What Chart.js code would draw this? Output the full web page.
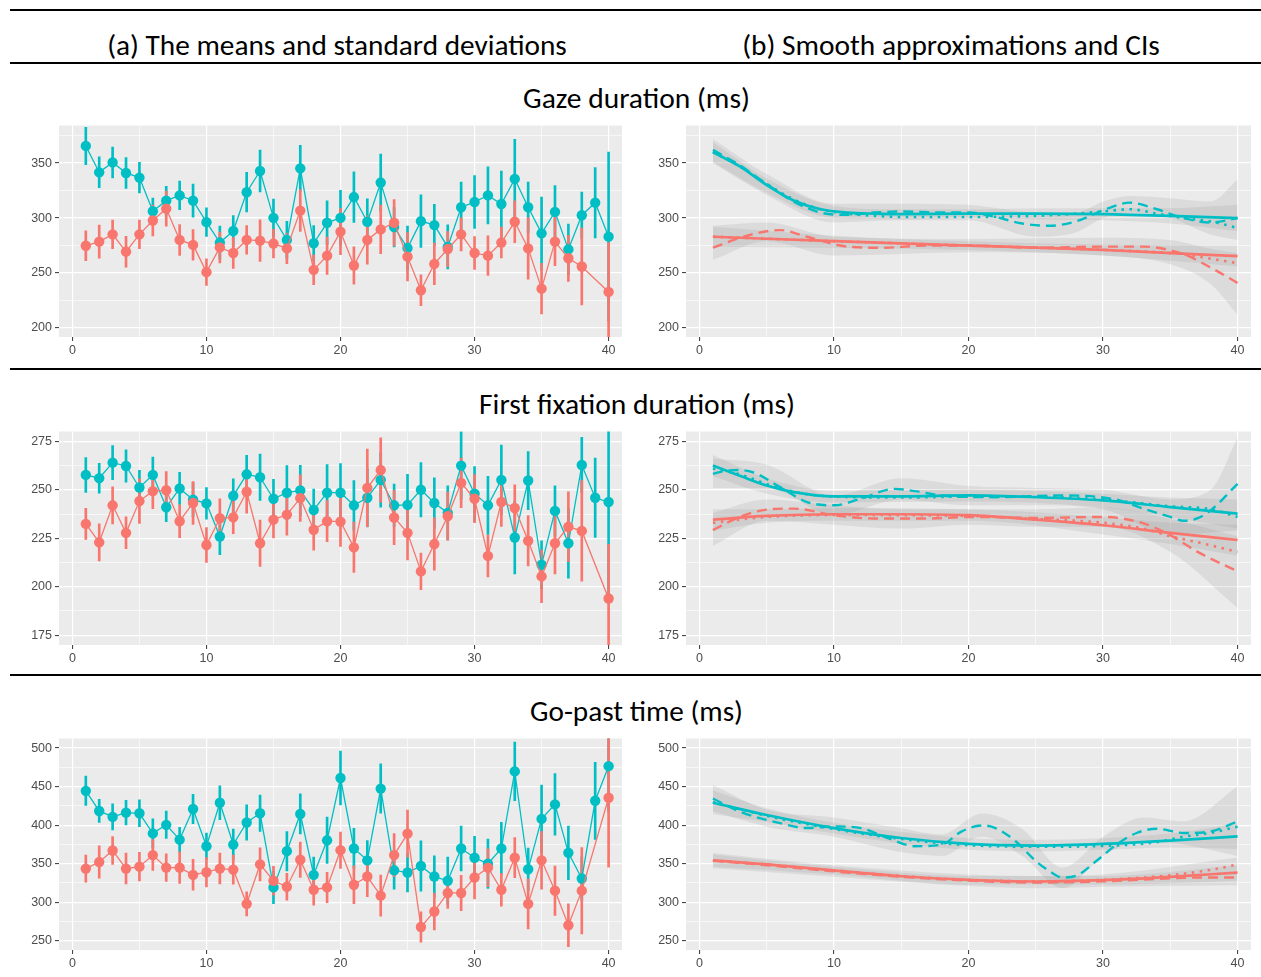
<!DOCTYPE html>
<html><head><meta charset="utf-8">
<script src="https://cdn.jsdelivr.net/npm/chart.js@4/dist/chart.umd.min.js"></script>
<style>
body{margin:0;background:#fff;width:1261px;height:977px;position:relative;overflow:hidden;}
.hr{position:absolute;left:10px;width:1251px;height:2px;background:#000;}
.t{position:absolute;white-space:nowrap;color:#000;line-height:1;font-family:"Carlito","Lato","Open Sans",sans-serif;}
</style></head><body>
<div class="hr" style="top:9px"></div>
<div class="hr" style="top:62px"></div>
<div class="hr" style="top:368px"></div>
<div class="hr" style="top:674px"></div>
<script>
// ---------------- DATA ----------------
const items = [1,2,3,4,5,6,7,8,9,10,11,12,13,14,15,16,17,18,19,20,21,22,23,24,25,26,27,28,29,30,31,32,33,34,35,36,37,38,39,40];
const xTickLabels = [0,10,20,30,40];
const xMinorTicks = [5,15,25,35];

// Gaze duration (ms)
const gazeYTicks = [200,250,300,350];
const gazeYMinor = [225,275,325,375];
const gazeCyanMean = [365.6,341.6,350.6,341.0,336.8,306.2,315.8,320.6,315.8,296.3,277.7,288.2,323.5,342.8,300.2,280.1,345.2,277.1,295.7,300.2,319.1,296.6,332.3,291.8,272.7,297.2,293.6,273.8,309.8,314.6,320.6,312.8,335.6,309.8,286.1,305.6,271.5,302.6,314.0,283.1];
const gazeCyanSD = [17,14,14,14,14,12,13,13,15,13,15,14,18,19,17,17,21,16,20,25,23,21,26,18,20,24,19,20,23,24,26,30,36,23,33,24,23,21,32,77];
const gazeRedMean = [274.8,278.6,285.2,269.4,285.2,297.8,308.6,280.1,275.6,250.8,273.3,268.2,280.1,279.5,276.8,272.4,306.8,252.9,265.8,287.6,256.8,280.1,289.7,295.7,264.9,234.3,258.3,271.8,285.2,268.2,265.8,277.7,296.6,272.4,235.8,278.6,263.4,255.9,null,232.8];
const gazeRedSD = [13.5,15,13,14,13,14,16,14,14,12,14,14,13,19,13,14,19,13.5,17,21,17,22,22,21,22,14,19,16,15,15,18,14,19,28,23,22,21,35,null,45];

// First fixation duration (ms)
const fixYTicks = [175,200,225,250,275];
const fixYMinor = [187.5,212.5,237.5,262.5];
const fixCyanMean = [257.7,256.0,264.0,262.3,251.2,257.7,241.0,250.7,244.9,243.0,225.9,246.9,258.0,256.5,245.4,248.5,249.7,239.6,248.5,248.5,242.0,245.9,255.1,242.0,242.2,250.0,243.2,238.1,262.5,248.0,242.0,255.1,225.4,254.8,211.3,239.1,222.4,262.8,245.9,243.7];
const fixCyanSD = [9,7.7,8.8,8.4,8.8,9.2,7.5,8.3,8.8,8.2,9.4,8.8,9.8,12,10,14,13,10.8,14.5,15,12.8,15,14,11,15.8,14,13,14,17.5,14,15,18,18.8,15,12.4,13,18,14.3,20.5,52];
const fixRedMean = [232.4,222.9,242.0,227.8,244.2,249.3,249.8,233.8,243.2,221.5,235.3,235.8,249.0,222.4,234.6,237.2,245.7,229.4,233.8,233.6,220.3,251.0,260.2,235.7,227.8,207.9,222.0,236.4,253.6,245.4,215.9,243.7,240.6,223.7,205.3,222.4,230.9,228.8,null,193.9];
const fixRedSD = [8,9.6,9.6,8.2,11.5,9,9.6,8.5,11,9,10,8.5,11,12,9.4,10.6,12,10.6,10.6,12.8,13,20,16.6,14,14,9.5,13.5,12.4,12.8,12.4,10.8,12.6,12,13,13.6,15.8,18,26,null,28];

// Go-past time (ms)
const gpYTicks = [250,300,350,400,450,500];
const gpYMinor = [275,325,375,425,475];
const gpCyanMean = [444.5,418.4,410.7,416.2,415.4,389.3,400.4,381.2,420.9,372.6,429.1,374.8,403.4,415.4,319.2,366.2,414.5,335.5,380.3,461.1,369.7,354.3,447.4,341.4,338.5,347.0,333.3,327.8,369.7,357.7,350.0,369.7,469.7,342.7,408.1,426.9,364.1,330.8,431.6,476.5];
const gpCyanSD = [19,15,17,16,17.5,19,17.7,16,19,17,22,20,23,23.5,21,25.6,26,23,30,35,26,25.6,32,24.6,25,32.7,27,30.8,29,27.8,32,33.8,38,27.4,44,40,34.8,28,50,59];
const gpRedMean = [343.6,352.1,367.1,343.6,346.1,361.1,344.9,344.9,335.5,338.9,343.6,342.3,297.9,349.1,327.8,320.1,355.1,316.2,319.2,367.5,322.6,333.3,308.5,361.1,388.9,267.9,288.0,312.0,312.0,332.0,344.9,316.2,357.7,297.9,354.3,315.0,270.1,315.0,null,435.5];
const gpRedSD = [17.7,21,18,20,18.5,20,18,20.5,20,19,20,19,15.6,21.6,18.6,17.5,23,20,19.7,23.5,24.6,26,26.7,28,30.5,19.7,24,20,23,27.8,24.6,21.4,26,32.5,37.4,32,27.8,56,null,90];

// Smooth approximations (read at knots) – gaze
const gazeCyanSolidX = [1,3,5,7,9,11,13,15,20,25,30,35,40];
const gazeCyanSolid  = [360,347,330,316,308,305,304,303.5,304,304,303.5,302,300];
const gazeCyanDashX  = [1,3,5,7,9,11,13,15,18,20,22,24,26,28,30,32,34,36,38,40];
const gazeCyanDash   = [362,348,331,315,305,303,305,306,305,305,301,295,293,297,307,314,308,300,296,300];
const gazeCyanDotX   = [1,3,5,7,9,11,13,15,20,25,28,30,32,34,36,38,40];
const gazeCyanDot    = [360,347,331,317,308,304,302,301,301,302,304,306,308,304,300,297,291];
const gazeRedSolidX  = [1,10,20,30,40];
const gazeRedSolid   = [283,279,275,271,265.3];
const gazeRedDashX   = [1,3,5,6,8,11,13.5,17,20,25,30,33,36,38,40];
const gazeRedDash    = [273,282,288,289,283,274,273,275,275,273,274,274,267,255,241];
const gazeRedDotX    = [1,10,20,30,34,36,38,40];
const gazeRedDot     = [283,279,275,271,269,267,263,259];
const gazeCyanBandAX = [1,5,10,15,20,25,30,35,40];
const gazeCyanBandAHi= [369,336,311,308,308,309,309,309,312];
const gazeCyanBandALo= [351,323,300,299,300,299,298,295,288];
const gazeCyanBandBX = [1,5,10,15,20,25,28,30,32,35,38,40];
const gazeCyanBandBHi= [372,340,313,313,312,305,305,315,320,318,315,335];
const gazeCyanBandBLo= [350,321,296,298,298,283,287,300,305,300,285,280];
const gazeRedBandAX  = [1,10,20,30,40];
const gazeRedBandAHi = [292,284,279,276,275];
const gazeRedBandALo = [274,273,271,266,256];
const gazeRedBandBX  = [1,5,10,20,30,35,38,40];
const gazeRedBandBHi = [293,296,283,281,282,280,272,268];
const gazeRedBandBLo = [262,279,266,269,266,258,240,212];

// first fixation
const fixCyanSolidX = [1,3,5,7,10,15,20,25,30,35,40];
const fixCyanSolid  = [262.5,257.3,252.2,248.8,246.6,246.6,247.1,246.2,244.5,241.1,237.7];
const fixCyanDashX  = [1,2,3,4,6,8,10,12,14.5,16,18,22,27,31,33,35,36,37,38,40];
const fixCyanDash   = [258.2,259.9,260.2,259,251.4,243.7,242,245.4,250.5,249.3,247.1,246.2,247.1,244.9,240.3,236,234,235.2,239.4,253.1];
const fixCyanDotX   = [1,3,5,7,10,15,20,25,30,35,38,40];
const fixCyanDot    = [261,258,253,249,246.5,246,246.5,246.5,245,241.5,240,236];
const fixRedSolidX  = [1,5,10,15,20,25,30,35,40];
const fixRedSolid   = [234.6,236.5,237.4,237.4,236.9,234.6,231.7,227.8,224.1];
const fixRedDashX   = [1,3,5,7,10,13,17,20,25,30,33,35,37,40];
const fixRedDash    = [229.2,236,239.8,240.3,236.9,235.2,235.2,236,235.5,236,232.7,226.6,218.1,207.9];
const fixRedDotX    = [1,5,10,20,25,30,33,35,37,40];
const fixRedDot     = [233,236,237,236.5,235,233,230,226,223,218];
const fixCyanBandAX = [1,5,10,20,30,35,40];
const fixCyanBandAHi= [268,256,249.5,250,248,246,245];
const fixCyanBandALo= [257,248,243.5,244,241,236,230];
const fixCyanBandBX = [1,5,10,15,20,25,30,35,38,40];
const fixCyanBandBHi= [266,263,247,256,252,251,250,245,250,277];
const fixCyanBandBLo= [251,251,237,245,242,242,240,227,228,229];
const fixRedBandAX  = [1,5,10,20,30,35,40];
const fixRedBandAHi = [240,240,240.5,240,236,233,232];
const fixRedBandALo = [229,233,234,234,227,222,216];
const fixRedBandBX  = [1,5,10,15,20,25,30,35,40];
const fixRedBandBHi = [238,245,242,240,240,240,241,235,226];
const fixRedBandBLo = [221,234,232,230,232,231,231,218,189];

// go-past
const gpCyanSolidX = [1,5,10,15,20,25,30,35,40];
const gpCyanSolid  = [429.1,413.2,396.2,383.3,375.6,373.5,375.6,379.9,385.5];
const gpCyanDashX  = [1,3,6,8,10,12,14,16,18,19.5,21,22,23.5,25,26,27,28,29.5,31,32.5,34,36,38,40];
const gpCyanDash   = [434.6,417.5,402.6,396.2,398.3,396.2,383.3,372.7,374.8,391.9,399.6,396.2,379.1,353.4,340.6,332,334.2,353.4,374.8,389.8,395.3,389.8,391.9,404.7];
const gpCyanDotX   = [1,5,10,15,20,25,30,34,36,38,40];
const gpCyanDot    = [430,412,395,382,374,372,373,378,385,390,398];
const gpRedSolidX  = [1,5,10,15,20,25,30,35,40];
const gpRedSolid   = [354.3,349.1,341.4,333.7,329.0,326.9,328.6,332.9,338.5];
const gpRedDashX   = [1,5,10,15,20,25,30,35,37,40];
const gpRedDash    = [354,348,340,333,328,325.5,327,331,332,332];
const gpRedDotX    = [1,5,10,15,20,25,30,35,38,40];
const gpRedDot     = [354,349,341,334,329,327,329,335,342,349];
const gpCyanBandAX = [1,5,10,15,20,25,30,35,40];
const gpCyanBandAHi= [445,422,403,391,383,381,383,389,402];
const gpCyanBandALo= [414,404,389,376,368,366,368,371,369];
const gpCyanBandBX = [1,5,10,15,18,21,24,27,30,33,36,40];
const gpCyanBandBHi= [452,420,410,396,388,415,395,345,385,410,405,450];
const gpCyanBandBLo= [418,398,385,365,360,385,360,318,360,380,375,360];
const gpRedBandAX  = [1,10,20,30,40];
const gpRedBandAHi = [362,346,334,334,348];
const gpRedBandALo = [346,336,323,323,328];
const gpRedBandBX  = [1,10,20,25,30,40];
const gpRedBandBHi = [364,348,336,334,336,358];
const gpRedBandBLo = [344,333,321,318,320,322];

// ---------------- STYLE / LAYOUT ----------------
const RED = '#F8766D', CYAN = '#00BFC4';
const BAND = 'rgba(140,140,140,0.17)';
const TICKFONT = {family:'"Liberation Sans", Arial, sans-serif', size:12.5};

function placeText(txt, cx, cy, targetW){
  const el = document.createElement('div'); el.className='t'; el.textContent = txt;
  el.style.fontSize = '26px';
  document.body.appendChild(el);
  const w = el.getBoundingClientRect().width;
  el.style.fontSize = (26*targetW/w)+'px';
  el.style.left = cx+'px'; el.style.top = cy+'px';
  el.style.transform = 'translate(-50%,-50%)';
}
placeText('(a) The means and standard deviations', 337, 46, 460);
placeText('(b) Smooth approximations and CIs', 951, 46, 418);
placeText('Gaze duration (ms)', 636.5, 99, 227);
placeText('First fixation duration (ms)', 637, 405, 316);
placeText('Go-past time (ms)', 636.5, 712, 213);

const pts = (xs, ys) => xs.map((x,i)=>({x:x, y:ys[i]}));
const errs = (xs, m, sd) => xs.map((x,i)=> m[i]==null ? null : ({x:x, y:[m[i]-sd[i], m[i]+sd[i]]})).filter(Boolean);

const bgPlugin = {id:'bg', beforeDraw(ch){const a=ch.chartArea, c=ch.ctx; c.save(); c.fillStyle='#EBEBEB'; c.fillRect(a.left,a.top,a.right-a.left,a.bottom-a.top); c.restore();}};

function axisOpts(min, max, majors, minors, isX, size){
  const all = majors.concat(minors).sort((a,b)=>a-b);
  const isMaj = c => c.tick && majors.includes(c.tick.value);
  return {
    type:'linear', min:min, max:max, offset:false,
    afterBuildTicks: s => { s.ticks = all.map(v=>({value:v})); },
    afterFit: s => { if(isX) s.height = size; else s.width = size; },
    border:{display:false},
    grid:{offset:false, color:'#FFFFFF', lineWidth: c => isMaj(c) ? 1.2 : 0.6, drawTicks:true, tickLength:4,
          tickColor: c => isMaj(c) ? '#333333' : 'rgba(0,0,0,0)', tickWidth:1},
    ticks:{color:'#4D4D4D', font:TICKFONT, padding: isX ? 2 : 3, autoSkip:false, maxRotation:0, minRotation:0,
           callback: v => majors.includes(v) ? String(v) : ''}
  };
}

const ROWS = [
  {top:123, h:214, ymin:191.8, ymax:384.2, yt:gazeYTicks, ym:gazeYMinor},
  {top:429, h:216, ymin:169.9, ymax:280.1, yt:fixYTicks, ym:fixYMinor},
  {top:736, h:214, ymin:238.0, ymax:512.4, yt:gpYTicks, ym:gpYMinor}
];

function makeChart(plotLeft, plotW, row, datasets){
  const YW=42, PT=8, PR=8, XH=24;
  const cv = document.createElement('canvas');
  const W = YW+plotW+PR, H = PT+row.h+XH;
  cv.width = W; cv.height = H;
  cv.style.cssText = `position:absolute;left:${plotLeft-YW}px;top:${row.top-PT}px;width:${W}px;height:${H}px`;
  document.body.appendChild(cv);
  new Chart(cv, {
    type:'line',
    data:{datasets:datasets},
    options:{
      responsive:false, animation:false, devicePixelRatio:1,
      layout:{padding:{top:PT, right:PR, left:0, bottom:0}},
      plugins:{legend:{display:false}, tooltip:{enabled:false}},
      scales:{
        x: axisOpts(-1, 41, xTickLabels, xMinorTicks, true, XH),
        y: axisOpts(row.ymin, row.ymax, row.yt, row.ym, false, YW)
      }
    },
    plugins:[bgPlugin]
  });
}

function meanSets(cm, csd, rm, rsd){
  return [
    {type:'line', data:pts(items, rm), borderColor:RED, borderWidth:1.3, pointRadius:5.2, pointBackgroundColor:RED, pointBorderWidth:0, spanGaps:true, order:0},
    {type:'line', data:pts(items, cm), borderColor:CYAN, borderWidth:1.3, pointRadius:5.2, pointBackgroundColor:CYAN, pointBorderWidth:0, order:1},
    {type:'bar', data:errs(items, rm, rsd), backgroundColor:RED, barThickness:2, grouped:false, order:2},
    {type:'bar', data:errs(items, cm, csd), backgroundColor:CYAN, barThickness:2, grouped:false, order:3}
  ];
}
function band(xs, hi, lo){
  const base = {borderWidth:0, pointRadius:0, cubicInterpolationMode:'monotone', backgroundColor:BAND, order:10};
  return [Object.assign({data:pts(xs,hi), fill:'+1'}, base), Object.assign({data:pts(xs,lo), fill:false}, base)];
}
function curve(xs, ys, color, style){
  const d = {data:pts(xs,ys), borderColor:color, pointRadius:0, cubicInterpolationMode:'monotone', fill:false, borderCapStyle:'butt'};
  if(style==='solid'){ d.borderWidth=2.7; d.order=0; }
  if(style==='dash'){ d.borderWidth=2.4; d.borderDash=[10,6]; d.order=1; }
  if(style==='dot'){ d.borderWidth=2.6; d.borderDash=[2.5,5.5]; d.order=2; }
  return d;
}
function smoothSets(c, r){
  return [].concat(
    band(c.bAX, c.bAHi, c.bALo), band(c.bBX, c.bBHi, c.bBLo),
    band(r.bAX, r.bAHi, r.bALo), band(r.bBX, r.bBHi, r.bBLo),
    [curve(r.dotX, r.dot, RED, 'dot'), curve(r.dashX, r.dash, RED, 'dash'), curve(r.solidX, r.solid, RED, 'solid'),
     curve(c.dotX, c.dot, CYAN, 'dot'), curve(c.dashX, c.dash, CYAN, 'dash'), curve(c.solidX, c.solid, CYAN, 'solid')]
  );
}

const LEFT_X = 59, LEFT_W = 563, RIGHT_X = 686, RIGHT_W = 565;

makeChart(LEFT_X, LEFT_W, ROWS[0], meanSets(gazeCyanMean, gazeCyanSD, gazeRedMean, gazeRedSD));
makeChart(LEFT_X, LEFT_W, ROWS[1], meanSets(fixCyanMean, fixCyanSD, fixRedMean, fixRedSD));
makeChart(LEFT_X, LEFT_W, ROWS[2], meanSets(gpCyanMean, gpCyanSD, gpRedMean, gpRedSD));

makeChart(RIGHT_X, RIGHT_W, ROWS[0], smoothSets(
  {solidX:gazeCyanSolidX, solid:gazeCyanSolid, dashX:gazeCyanDashX, dash:gazeCyanDash, dotX:gazeCyanDotX, dot:gazeCyanDot,
   bAX:gazeCyanBandAX, bAHi:gazeCyanBandAHi, bALo:gazeCyanBandALo, bBX:gazeCyanBandBX, bBHi:gazeCyanBandBHi, bBLo:gazeCyanBandBLo},
  {solidX:gazeRedSolidX, solid:gazeRedSolid, dashX:gazeRedDashX, dash:gazeRedDash, dotX:gazeRedDotX, dot:gazeRedDot,
   bAX:gazeRedBandAX, bAHi:gazeRedBandAHi, bALo:gazeRedBandALo, bBX:gazeRedBandBX, bBHi:gazeRedBandBHi, bBLo:gazeRedBandBLo}));
makeChart(RIGHT_X, RIGHT_W, ROWS[1], smoothSets(
  {solidX:fixCyanSolidX, solid:fixCyanSolid, dashX:fixCyanDashX, dash:fixCyanDash, dotX:fixCyanDotX, dot:fixCyanDot,
   bAX:fixCyanBandAX, bAHi:fixCyanBandAHi, bALo:fixCyanBandALo, bBX:fixCyanBandBX, bBHi:fixCyanBandBHi, bBLo:fixCyanBandBLo},
  {solidX:fixRedSolidX, solid:fixRedSolid, dashX:fixRedDashX, dash:fixRedDash, dotX:fixRedDotX, dot:fixRedDot,
   bAX:fixRedBandAX, bAHi:fixRedBandAHi, bALo:fixRedBandALo, bBX:fixRedBandBX, bBHi:fixRedBandBHi, bBLo:fixRedBandBLo}));
makeChart(RIGHT_X, RIGHT_W, ROWS[2], smoothSets(
  {solidX:gpCyanSolidX, solid:gpCyanSolid, dashX:gpCyanDashX, dash:gpCyanDash, dotX:gpCyanDotX, dot:gpCyanDot,
   bAX:gpCyanBandAX, bAHi:gpCyanBandAHi, bALo:gpCyanBandALo, bBX:gpCyanBandBX, bBHi:gpCyanBandBHi, bBLo:gpCyanBandBLo},
  {solidX:gpRedSolidX, solid:gpRedSolid, dashX:gpRedDashX, dash:gpRedDash, dotX:gpRedDotX, dot:gpRedDot,
   bAX:gpRedBandAX, bAHi:gpRedBandAHi, bALo:gpRedBandALo, bBX:gpRedBandBX, bBHi:gpRedBandBHi, bBLo:gpRedBandBLo}));
</script>
</body></html>
